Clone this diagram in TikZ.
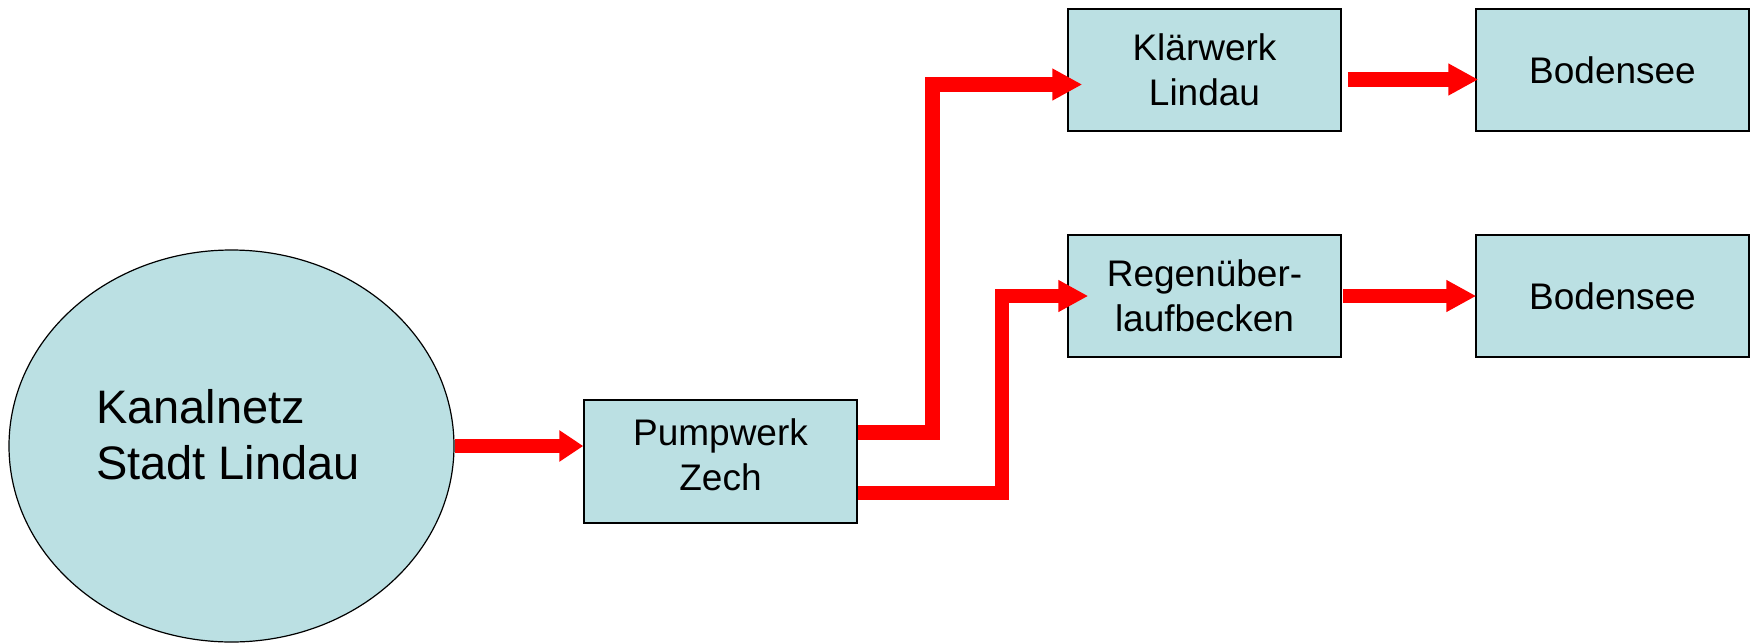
\documentclass[tikz,border=0pt]{standalone}
\usepackage{fontspec}
\setmainfont{Liberation Sans}
\usetikzlibrary{arrows.meta,shapes.geometric}
\definecolor{boxfill}{RGB}{187,224,227}
\definecolor{flow}{RGB}{255,0,0}

\begin{document}
\begin{tikzpicture}[x=1pt,y=-1pt,
  stage/.style={draw=black, line width=1.5pt, fill=boxfill,
    minimum width=273pt, minimum height=122pt, inner sep=0pt,
    align=center, font=\fontsize{37}{45}\selectfont},
  basin/.style={ellipse, draw=black, line width=1.2pt, fill=boxfill,
    minimum width=445pt, minimum height=392pt, inner sep=0pt,
    align=left, font=\fontsize{47}{56}\selectfont},
  pipe/.style={draw=flow, line width=14.5pt, line join=miter,
    -{Triangle[length=30pt,width=30pt]}},
]
\useasboundingbox (0,0) rectangle (1754,643);

% sewer network, pumping station and the two treatment paths
\node[basin, text depth=23pt] (kanal) at (231.5,446) {Kanalnetz\\Stadt Lindau\hspace*{7pt}};
\node[stage, minimum height=123pt, text depth=13pt] (pump) at (720.5,461.5) {Pumpwerk\\Zech};
\node[stage] (klaer) at (1204.5,70) {Klärwerk\\Lindau};
\node[stage] (regen) at (1204.5,296) {Regenüber-\\laufbecken};
\node[stage] (bod1) at (1612.5,70) {Bodensee};
\node[stage] (bod2) at (1612.5,296) {Bodensee};

% flow connectors
\draw[pipe, -{Triangle[length=24pt,width=30pt]}] (kanal.east) -- (kanal.east -| pump.west);
\draw[pipe] ([yshift=29pt]pump.east) -- ++(74.5,0) |- ([xshift=15pt,yshift=-14.5pt]klaer.west);
\draw[pipe] ([yshift=-31.5pt]pump.east) -- ++(144,0) |- ([xshift=21pt]regen.west);
\draw[pipe] ([xshift=6pt,yshift=-9.5pt]klaer.east) -- ([xshift=3pt,yshift=-9.5pt]bod1.west);
\draw[pipe] ([xshift=1pt]regen.east) -- ([xshift=1pt]bod2.west);
\end{tikzpicture}
\end{document}
